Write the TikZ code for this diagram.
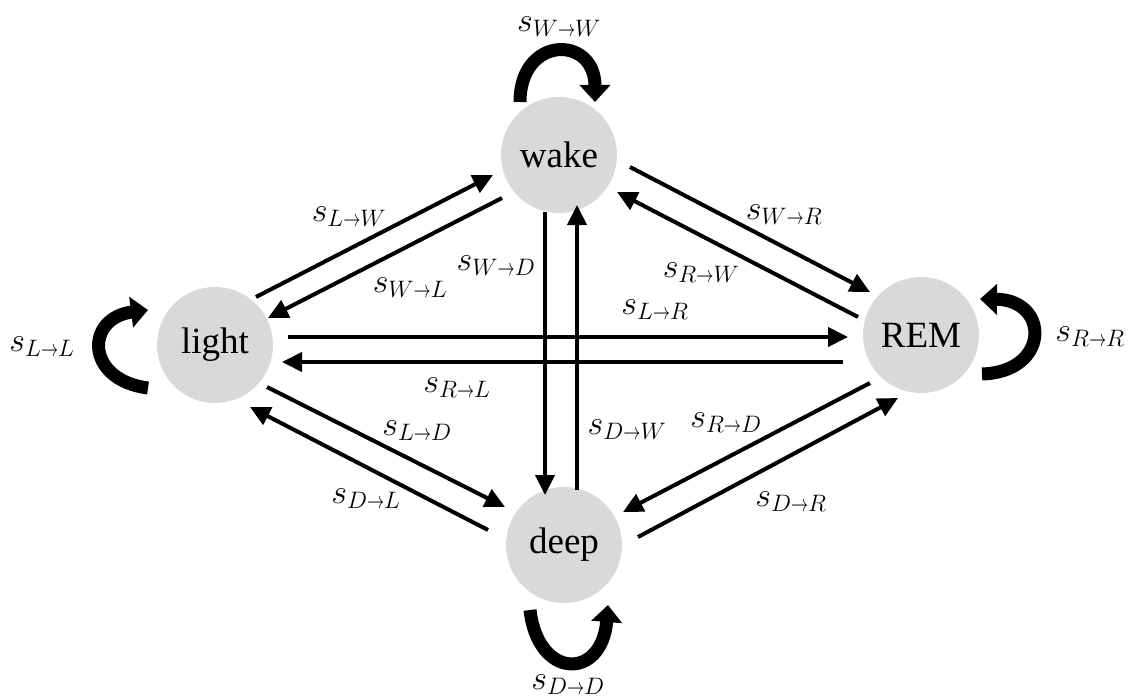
\RequirePackage{fix-cm}
\documentclass[tikz,border=0pt]{standalone}
\usepackage{fontspec}
\setmainfont{Liberation Serif}
\usetikzlibrary{arrows.meta,calc}
\definecolor{stategray}{HTML}{D9D9D9}
\newcommand{\sarr}{\mathord{\scalebox{0.72}[1]{$\scriptstyle\to$}}}
\newcommand{\trn}[2]{$s_{#1\sarr #2}$}
\begin{document}
\begin{tikzpicture}[x=1pt,y=-1pt,
  state/.style={circle,fill=stategray,minimum size=116pt,inner sep=0pt,font=\fontsize{37}{40}\selectfont},
  tr/.style={line width=4pt,-{Triangle[length=20pt,width=19pt]}},
  selfloop/.style={line width=13pt,-{Triangle[length=17pt,width=30pt]}},
  lab/.style={inner sep=0pt,font=\fontsize{34}{38}\selectfont}]
\useasboundingbox (0,0) rectangle (1130,698);

\node[state] (W) at (559,155) {wake};
\node[state] (L) at (215,345) {light};
\node[state] (R) at (921,335) {REM};
\node[state] (D) at (564,545) {deep};

% light <-> wake
\draw[tr] ($(L)+(41,-48)$) -- ($(W)+(-66,20)$);
\draw[tr] ($(W)+(-57,43)$) -- ($(L)+(53,-27)$);
% wake <-> REM
\draw[tr] ($(W)+(71,12)$) -- ($(R)+(-51,-43)$);
\draw[tr] ($(R)+(-63,-18)$) -- ($(W)+(58,37)$);
% light <-> REM
\draw[tr] ($(L)+(73,-8)$) -- ($(R)+(-73,2)$);
\draw[tr] ($(R)+(-78,27)$) -- ($(L)+(67,17)$);
% light <-> deep
\draw[tr] ($(L)+(52,42)$) -- ($(D)+(-59,-38)$);
\draw[tr] ($(D)+(-76,-15)$) -- ($(L)+(35,62)$);
% REM <-> deep
\draw[tr] ($(R)+(-51,48)$) -- ($(D)+(59,-33)$);
\draw[tr] ($(D)+(74,-8)$) -- ($(R)+(-23,63)$);
% wake <-> deep
\draw[tr] ($(W)+(-14,57)$) -- ($(D)+(-19,-50)$);
\draw[tr] ($(D)+(13,-55)$) -- ($(W)+(18,50)$);

% self loops
\draw[selfloop] ($(W)+(-39,-53)$) .. controls ($(W)+(-39,-120)$) and ($(W)+(36,-120)$) .. ($(W)+(36,-53)$);
\draw[selfloop] ($(L)+(-67,43)$) .. controls ($(L)+(-130,35)$) and ($(L)+(-130,-27)$) .. ($(L)+(-67,-35)$);
\draw[selfloop] ($(R)+(61,39)$) .. controls ($(R)+(129,37)$) and ($(R)+(129,-35)$) .. ($(R)+(59,-36)$);
\draw[selfloop] ($(D)+(-34,65)$) .. controls ($(D)+(-26,135)$) and ($(D)+(38,135)$) .. ($(D)+(44,60)$);

% labels
\node[lab] (sWW) at (559,27)  {\trn{W}{W}};
\node[lab] (sLW) at (349,217) {\trn{L}{W}};
\node[lab] (sWL) at (410,288) {\trn{W}{L}};
\node[lab] (sWD) at (496,266) {\trn{W}{D}};
\node[lab] (sWR) at (784,215) {\trn{W}{R}};
\node[lab] (sRW) at (701,273) {\trn{R}{W}};
\node[lab] (sLR) at (655,310) {\trn{L}{R}};
\node[lab] (sRL) at (457,388) {\trn{R}{L}};
\node[lab] (sLD) at (417,431) {\trn{L}{D}};
\node[lab] (sDL) at (366,499) {\trn{D}{L}};
\node[lab] (sDW) at (627,430) {\trn{D}{W}};
\node[lab] (sRD) at (726,423) {\trn{R}{D}};
\node[lab] (sDR) at (791,502) {\trn{D}{R}};
\node[lab] (sLL) at (42,347)  {\trn{L}{L}};
\node[lab] (sRR) at (1090,337) {\trn{R}{R}};
\node[lab] (sDD) at (568,685) {\trn{D}{D}};
\end{tikzpicture}
\end{document}
